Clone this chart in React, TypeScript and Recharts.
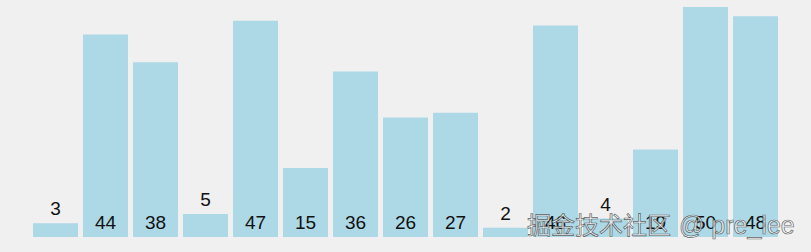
import { Bar, BarChart, LabelList, XAxis, YAxis } from 'recharts';

const indexes = ['1', '2', '3', '4', '5', '6', '7', '8', '9', '10', '11', '12', '13', '14', '15'];
const values = [3, 44, 38, 5, 47, 15, 36, 26, 27, 2, 46, 4, 19, 50, 48];

const data = indexes.map((name, i) => ({ name, value: values[i] }));

function ValueLabel(props: any) {
  const { x, y, width, height, value } = props;
  // small bars get their number above, the rest sit inside at the bottom
  const baseline = value < 10 ? y - 8 : y + height - 8;
  return (
    <text x={x + width / 2} y={baseline} textAnchor="middle" fill="#111"
      style={{ fontFamily: '"Liberation Sans", Arial, sans-serif', fontSize: 19 }}>
      {value}
    </text>
  );
}

export default function App() {
  return (
    <div style={{ position: 'absolute', left: 0, top: 0, width: 811, height: 252, background: '#f0f0f0' }}>
      <BarChart width={811} height={252} data={data} barCategoryGap={2.5}
        margin={{ top: 7, right: 30.5, left: 30.5, bottom: 15 }}>
        <XAxis dataKey="name" hide />
        <YAxis domain={[0, 50]} hide />
        <Bar dataKey="value" fill="#add8e6" isAnimationActive={false}>
          <LabelList dataKey="value" content={ValueLabel} />
        </Bar>
      </BarChart>
      <div style={{
        position: 'absolute', left: 527, top: 206, whiteSpace: 'nowrap',
        fontFamily: '"Noto Sans CJK SC", "Liberation Sans", sans-serif', fontSize: 24,
        color: 'rgba(245,245,245,0.75)', WebkitTextStroke: '0.7px rgba(60,60,60,0.8)',
      }}>
        掘金技术社区<span style={{ fontFamily: '"Liberation Sans", Arial, sans-serif', fontSize: 25, marginLeft: 8 }}>@ pre_lee</span>
      </div>
    </div>
  );
}
